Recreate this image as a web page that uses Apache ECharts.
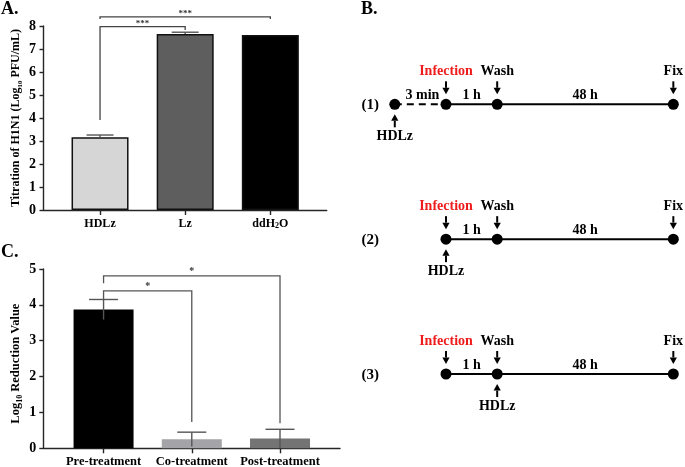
<!DOCTYPE html>
<html>
<head>
<meta charset="utf-8">
<script src="https://cdn.jsdelivr.net/npm/echarts@6.0.0/dist/echarts.min.js"></script>
<style>html,body{margin:0;padding:0;background:#fff;}#chart{width:685px;height:467px;}</style>
</head>
<body>
<div id="chart"></div>
<script>
// ---------- Panel A data ----------
const catsA = ['HDLz', 'Lz', 'ddH2O'];
const valsA = [3.16, 7.65, 7.61];
const errA = [0.10, 0.08, 0];
const ticksA = [0, 1, 2, 3, 4, 5, 6, 7, 8];
const brFromA = [0, 0];
const brToA = [1, 2];
const brLevelA = [7.97, 8.40];
const brLeftEndA = [3.91, 8.30];
const brRightEndA = [7.83, 8.30];
const brTextA = ['***', '***'];

// ---------- Panel C data ----------
const catsC = ['Pre-treatment', 'Co-treatment', 'Post-treatment'];
const valsC = [3.87, 0.25, 0.27];
const errC = [0.28, 0.20, 0.26];
const ticksC = [0, 1, 2, 3, 4, 5];
const brFromC = [0, 0];
const brToC = [1, 2];
const brLevelC = [4.39, 4.81];
const brLeftEndC = [4.15, 4.60];
const brRightEndC = [0.73, 0.70];
const brTextC = ['*', '*'];

// ---------- Panel B data (schematic timeline) ----------
const rowsB = ['(1)', '(2)', '(3)'];
const timePoints = [-1, 0, 1, 4.44];           // HDLz pre-incubation, Infection, Wash, Fix
const rowStartB = [0, 1, 1];                   // first time point of each protocol row
const segLabelsB = ['3 min', '1 h', '48 h'];
const topLabelsB = ['', 'Infection', 'Wash', 'Fix'];
const hdlzAtB = [0, 1, 2];                     // time point where HDLz is added

// ---------- styles ----------
const SERIF = "'Liberation Serif','Times New Roman',serif";
const colorsA = ['#d6d6d6', '#5e5e5e', '#000000'];
const colorsC = ['#000000', '#a3a3a8', '#747474'];
const AX = '#262626';
const rowLabelT = -1.48;

const chart = echarts.init(document.getElementById('chart'), null, {renderer: 'canvas'});

function subRich(size) {
  return {fontFamily: SERIF, fontWeight: 'bold', fontSize: size, color: '#000', lineHeight: 10, padding: [9, 0, 0, 0]};
}

function errRender(capW, both, color) {
  return function (params, api) {
    const x = api.value(0), v = api.value(1), e = api.value(2);
    if (!e) return null;
    const top = api.coord([x, v + e]);
    const bot = api.coord([x, both ? Math.max(0, v - e) : v]);
    const st = {stroke: color, lineWidth: 1.4};
    return {type: 'group', children: [
      {type: 'line', shape: {x1: top[0], y1: top[1], x2: bot[0], y2: bot[1]}, style: st},
      {type: 'line', shape: {x1: top[0] - capW / 2, y1: top[1], x2: top[0] + capW / 2, y2: top[1]}, style: st}
    ]};
  };
}

function bracketRender(from, to, level, lEnd, rEnd, texts, color, fs) {
  return function (params, api) {
    const i = api.value(2);
    const p1 = api.coord([from[i], lEnd[i]]);
    const p2 = api.coord([from[i], level[i]]);
    const p3 = api.coord([to[i], level[i]]);
    const p4 = api.coord([to[i], rEnd[i]]);
    return {type: 'group', children: [
      {type: 'polyline', shape: {points: [p1, p2, p3, p4]}, style: {stroke: color, lineWidth: 1.3, fill: null}},
      {type: 'text', x: (p2[0] + p3[0]) / 2, y: p2[1] + 1,
        style: {text: texts[i], fill: '#333', font: 'bold ' + fs + 'px ' + SERIF, align: 'center', verticalAlign: 'bottom'}}
    ]};
  };
}

function txt(x, y, text, color, size) {
  return {type: 'text', x: x, y: y, style: {text: text, fill: color || '#000', font: 'bold ' + (size || 14) + 'px ' + SERIF, align: 'center', verticalAlign: 'middle'}};
}
function arrow(x, y, s) { // s = -1 above the dot pointing down, +1 below pointing up
  const tip = y + s * 10, tail = y + s * 23, base = y + s * 16.5;
  return [
    {type: 'line', shape: {x1: x, y1: tail, x2: x, y2: base}, style: {stroke: '#000', lineWidth: 2}},
    {type: 'polygon', shape: {points: [[x - 3.6, base], [x + 3.6, base], [x, tip]]}, style: {fill: '#000'}}
  ];
}

// Panel B derived data
const segDataB = [], dotDataB = [], annDataB = [], rowDataB = [];
rowsB.forEach(function (r, ri) {
  const row = ri + 1;
  rowDataB.push([rowLabelT, row, ri]);
  for (let i = rowStartB[ri]; i < timePoints.length; i++) {
    dotDataB.push([timePoints[i], row]);
    if (i < timePoints.length - 1) segDataB.push([timePoints[i], row, timePoints[i + 1], i]);
    if (topLabelsB[i]) annDataB.push([timePoints[i], row, i, 0]);
  }
  annDataB.push([timePoints[hdlzAtB[ri]], row, -1, 1]);
});

function valueAxisY(grid, ticks, fs, margin, name, nameFs, nameGap, namePad) {
  return {
    gridIndex: grid, type: 'value', min: ticks[0], max: ticks[ticks.length - 1], interval: ticks[1] - ticks[0],
    axisLine: {show: true, onZero: false, lineStyle: {color: AX, width: 1.4}},
    axisTick: {show: true, inside: false, length: 4, lineStyle: {color: AX, width: 1.4}},
    axisLabel: {show: true, margin: margin, fontFamily: SERIF, fontWeight: 'bold', fontSize: fs, color: '#000'},
    splitLine: {show: false},
    name: name, nameLocation: 'middle', nameRotate: 90, nameGap: nameGap,
    nameTextStyle: {fontFamily: SERIF, fontWeight: 'bold', fontSize: nameFs, color: '#000', padding: namePad,
      rich: {sub: subRich(Math.round(nameFs * 0.62))}}
  };
}
function catAxisX(grid, cats, min, max, fs, margin) {
  const idx = cats.map(function (c, i) { return i; });
  return {
    gridIndex: grid, type: 'value', min: min, max: max,
    axisLine: {show: true, onZero: false, lineStyle: {color: AX, width: 1.4}},
    axisTick: {show: true, customValues: idx, length: 5, lineStyle: {color: AX, width: 1.4}},
    axisLabel: {show: true, customValues: idx, margin: margin, fontFamily: SERIF, fontWeight: 'bold', fontSize: fs, color: '#000',
      formatter: function (v) { return cats[Math.round(v)].replace(/(\d)/g, '{s|$1}'); },
      rich: {s: {fontFamily: SERIF, fontWeight: 'bold', fontSize: 8, color: '#000', padding: [3, 0, 0, 0]}}},
    splitLine: {show: false}
  };
}

const option = {
  animation: false,
  backgroundColor: '#fff',
  title: [
    {text: 'A.', left: 1, top: 0, padding: 0, textStyle: {fontFamily: SERIF, fontWeight: 'bold', fontSize: 18, color: '#000'}},
    {text: 'B.', left: 361, top: 0, padding: 0, textStyle: {fontFamily: SERIF, fontWeight: 'bold', fontSize: 18, color: '#000'}},
    {text: 'C.', left: 1, top: 243, padding: 0, textStyle: {fontFamily: SERIF, fontWeight: 'bold', fontSize: 18, color: '#000'}}
  ],
  grid: [
    {left: 43.5, top: 26, width: 283.2, height: 184, outerBoundsMode: 'none'},
    {left: 43.3, top: 269, width: 296.7, height: 179.3, outerBoundsMode: 'none'},
    {left: 340, top: 0, width: 345, height: 467, outerBoundsMode: 'none'}
  ],
  xAxis: [
    catAxisX(0, catsA, -0.664, 2.662, 12, 8),
    catAxisX(1, catsC, -0.683, 2.68, 12.5, 7),
    {gridIndex: 2, type: 'value', min: -2.07, max: 4.668, show: false}
  ],
  yAxis: [
    valueAxisY(0, ticksA, 14, 7.5, 'Titration of H1N1 (Log{sub|10} PFU/mL)', 12, 21.5, 0),
    valueAxisY(1, ticksC, 14, 7, 'Log{sub|10} Reduction Value', 12.5, 21, [0, 10, 0, 0]),
    {gridIndex: 2, type: 'value', min: 0.2265, max: 3.6896, inverse: true, show: false}
  ],
  series: [
    // ---- Panel A ----
    {type: 'bar', xAxisIndex: 0, yAxisIndex: 0, barWidth: 57, z: 2,
      data: valsA.map(function (v, i) { return {value: [i, v], itemStyle: {color: colorsA[i], borderColor: '#111', borderWidth: 1.5}}; })},
    {type: 'custom', xAxisIndex: 0, yAxisIndex: 0, z: 3,
      data: valsA.map(function (v, i) { return [i, v, errA[i]]; }), renderItem: errRender(27, false, '#555')},
    {type: 'custom', xAxisIndex: 0, yAxisIndex: 0, z: 4,
      data: brFromA.map(function (f, i) { return [f, brLevelA[i], i]; }),
      renderItem: bracketRender(brFromA, brToA, brLevelA, brLeftEndA, brRightEndA, brTextA, '#444', 9)},
    // ---- Panel C ----
    {type: 'bar', xAxisIndex: 1, yAxisIndex: 1, barWidth: 60, z: 2,
      data: valsC.map(function (v, i) { return {value: [i, v], itemStyle: {color: colorsC[i]}}; })},
    {type: 'custom', xAxisIndex: 1, yAxisIndex: 1, z: 3,
      data: valsC.map(function (v, i) { return [i, v, errC[i]]; }), renderItem: errRender(29, true, '#555')},
    {type: 'custom', xAxisIndex: 1, yAxisIndex: 1, z: 4,
      data: brFromC.map(function (f, i) { return [f, brLevelC[i], i]; }),
      renderItem: bracketRender(brFromC, brToC, brLevelC, brLeftEndC, brRightEndC, brTextC, '#555', 10)},
    // ---- Panel B ----
    {type: 'custom', xAxisIndex: 2, yAxisIndex: 2, z: 2, data: segDataB,
      renderItem: function (params, api) {
        const p1 = api.coord([api.value(0), api.value(1)]);
        const p2 = api.coord([api.value(2), api.value(1)]);
        const i = api.value(3);
        return {type: 'group', children: [
          {type: 'line', shape: {x1: p1[0], y1: p1[1], x2: p2[0], y2: p2[1]},
            style: {stroke: '#000', lineWidth: 2, lineDash: i === 0 ? [7, 5] : null}},
          txt((p1[0] + p2[0]) / 2 + (i === 0 ? 2 : 0), p1[1] - 8.5, segLabelsB[i], '#000', 14)
        ]};
      }},
    {type: 'scatter', xAxisIndex: 2, yAxisIndex: 2, z: 3, symbol: 'circle', symbolSize: 11,
      itemStyle: {color: '#000', opacity: 1}, data: dotDataB},
    {type: 'custom', xAxisIndex: 2, yAxisIndex: 2, z: 4, data: annDataB,
      renderItem: function (params, api) {
        const p = api.coord([api.value(0), api.value(1)]);
        const li = api.value(2), side = api.value(3);
        if (side === 0) {
          const label = topLabelsB[li];
          return {type: 'group', children: arrow(p[0], p[1], -1).concat([
            txt(p[0], p[1] - 33, label, label === 'Infection' ? '#ee1c1c' : '#000', 14)])};
        }
        return {type: 'group', children: arrow(p[0], p[1], 1).concat([txt(p[0], p[1] + 32, 'HDLz', '#000', 14)])};
      }},
    {type: 'custom', xAxisIndex: 2, yAxisIndex: 2, z: 4, data: rowDataB,
      renderItem: function (params, api) {
        const p = api.coord([api.value(0), api.value(1)]);
        return txt(p[0], p[1] + 1, rowsB[api.value(2)], '#000', 15);
      }}
  ]
};
chart.setOption(option);
</script>
</body>
</html>
